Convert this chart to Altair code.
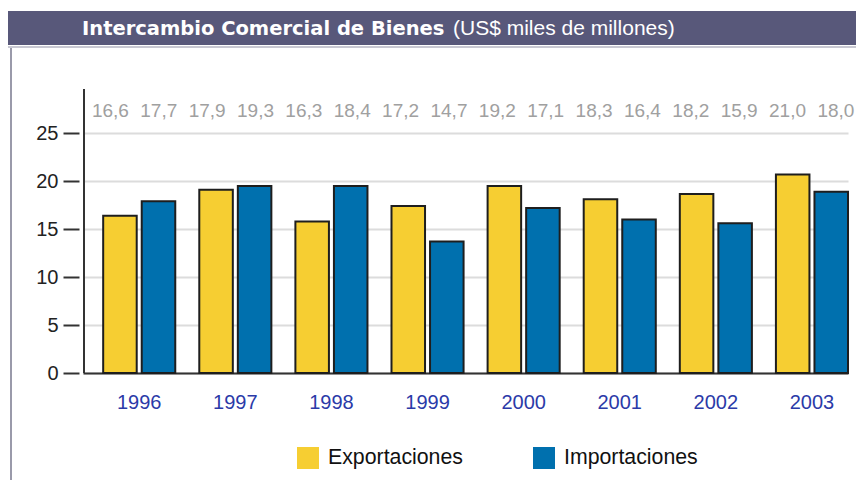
import altair as alt
import pandas as pd

years = ["1996", "1997", "1998", "1999", "2000", "2001", "2002", "2003"]
series = ["Exportaciones", "Importaciones"]
export_bars = [16.4, 19.1, 15.8, 17.4, 19.5, 18.1, 18.65, 20.7]
import_bars = [17.9, 19.5, 19.5, 13.7, 17.2, 16.0, 15.6, 18.9]
export_labels = ["16,6", "17,9", "16,3", "17,2", "19,2", "18,3", "18,2", "21,0"]
import_labels = ["17,7", "19,3", "18,4", "14,7", "17,1", "16,4", "15,9", "18,0"]
y_ticks = [0, 5, 10, 15, 20, 25]
colors = ["#F6CE32", "#0070AE"]
title_bold = "Intercambio Comercial de Bienes"
title_rest = "(US$ miles de millones)"

W, H = 765, 284

rows = []
for i, y in enumerate(years):
    rows.append({"year": y, "series": series[0], "value": export_bars[i]})
    rows.append({"year": y, "series": series[1], "value": import_bars[i]})
bars_df = pd.DataFrame(rows)

lab_rows = []
for i, y in enumerate(years):
    lab_rows.append({"slot": 2 * i, "text": export_labels[i]})
    lab_rows.append({"slot": 2 * i + 1, "text": import_labels[i]})
lab_df = pd.DataFrame(lab_rows)

one = pd.DataFrame({"a": [0]})

bars = alt.Chart(bars_df).mark_bar(stroke="#1e1e1e", strokeWidth=2).encode(
    x=alt.X("year:N", sort=years,
            scale=alt.Scale(paddingInner=0.25, paddingOuter=0.105, align=1),
            axis=alt.Axis(title=None, labelAngle=0, ticks=False, domain=True,
                          domainColor="#333333", domainWidth=2, grid=False,
                          labelColor="#2b3aa8", labelFont="Liberation Sans",
                          labelFontSize=20, labelPadding=19)),
    xOffset=alt.XOffset("series:N", sort=series,
                        scale=alt.Scale(paddingInner=0.13, paddingOuter=0)),
    y=alt.Y("value:Q",
            scale=alt.Scale(domain=[0, 29.6], nice=False, zero=True),
            axis=alt.Axis(values=y_ticks, title=None, domain=False, grid=True,
                          gridColor="#dcdcdc", gridWidth=2, ticks=True,
                          tickSize=16, tickWidth=2, tickColor="#333333",
                          offset=4, labelPadding=5, labelFont="Liberation Sans",
                          labelFontSize=20, labelColor="#222222")),
    color=alt.Color("series:N", sort=series,
                    scale=alt.Scale(domain=series, range=colors),
                    legend=alt.Legend(title=None, orient="none", legendX=214,
                                      legendY=358, direction="horizontal",
                                      symbolType="square", symbolSize=484,
                                      symbolStrokeWidth=0, labelFont="Liberation Sans",
                                      labelFontSize=21.3, labelColor="#111111",
                                      labelOffset=9, columnPadding=70, padding=0)),
)

labels = alt.Chart(lab_df).mark_text(
    font="Liberation Sans", fontSize=19, color="#a0a0a0", baseline="middle"
).encode(
    x=alt.X("slot:Q", scale=alt.Scale(domain=[-0.566, 15.25], nice=False, zero=False),
            axis=None),
    y=alt.value(22),
    text="text:N",
)

yline = alt.Chart(one).mark_rule(color="#333333", strokeWidth=2).encode(
    x=alt.value(1), y=alt.value(0), y2=alt.value(H)
)

header = alt.Chart(one).mark_rect(color="#58587a").encode(
    x=alt.value(-75), x2=alt.value(773), y=alt.value(-78), y2=alt.value(-44)
)
sep = alt.Chart(one).mark_rect(color="#c8c8d2").encode(
    x=alt.value(-75), x2=alt.value(773), y=alt.value(-43), y2=alt.value(-41)
)
border = alt.Chart(one).mark_rect(color="#9a9aaa").encode(
    x=alt.value(-73), x2=alt.value(-71), y=alt.value(-41), y2=alt.value(400)
)
t1 = alt.Chart(one).mark_text(
    text=title_bold, align="left", baseline="middle", font="DejaVu Sans",
    fontWeight="bold", fontSize=19.5, color="white"
).encode(x=alt.value(-1), y=alt.value(-60))
t2 = alt.Chart(one).mark_text(
    text=title_rest, align="left", baseline="middle", font="Liberation Sans",
    fontSize=21, color="white"
).encode(x=alt.value(370), y=alt.value(-60))

chart = alt.layer(header, sep, border, t1, t2, bars, labels, yline).resolve_scale(
    x="independent"
).properties(
    width=W, height=H,
    autosize=alt.AutoSizeParams(type="none"),
    padding={"left": 75, "top": 81, "right": 8, "bottom": 107},
).configure_view(stroke=None)

chart.save("out.html", embed_options={"renderer": "svg", "actions": False})
